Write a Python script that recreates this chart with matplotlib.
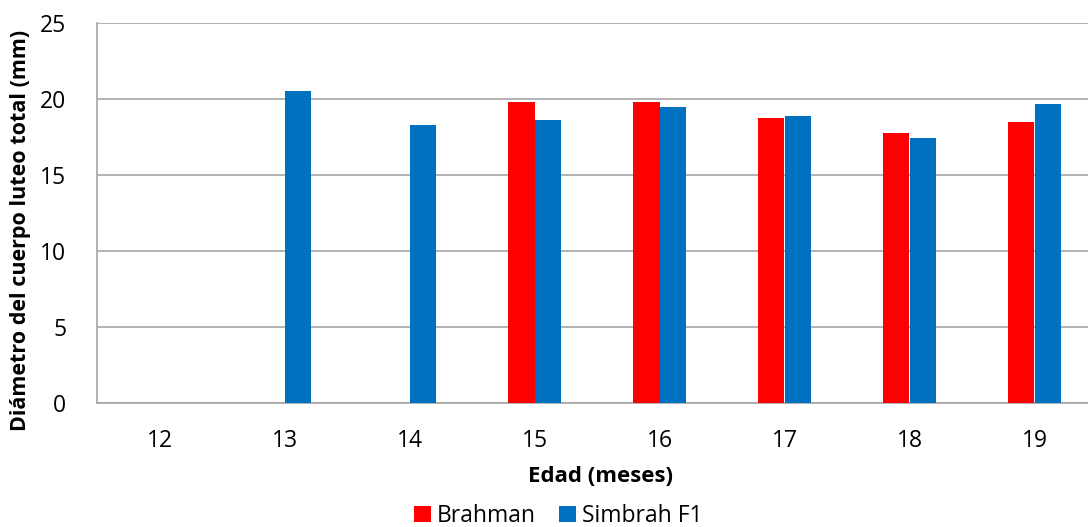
import numpy as np
import matplotlib
matplotlib.use('Agg')
import matplotlib.pyplot as plt

edades = ['12', '13', '14', '15', '16', '17', '18', '19']
brahman = [np.nan, np.nan, np.nan, 19.8, 19.8, 18.75, 17.75, 18.5]
simbrah = [np.nan, 20.5, 18.3, 18.65, 19.5, 18.9, 17.45, 19.65]

plt.rcParams['font.family'] = ['Open Sans', 'DejaVu Sans']

fig = plt.figure(figsize=(10.88, 5.27), dpi=100)
# plot area runs a little past the right edge of the figure, as in the original
ax = fig.add_axes([97 / 1088, 1 - 403 / 527, 1000 / 1088, 380 / 527])

x = np.arange(len(edades))
w = 0.21
ax.bar(x - w / 2, brahman, w, color='#FF0000', label='Brahman', zorder=3)
ax.bar(x + w / 2, simbrah, w, color='#0070C0', label='Simbrah F1', zorder=3)

ax.set_xlim(-0.5, len(edades) - 0.5)
ax.set_ylim(0, 25)
ax.set_yticks([0, 5, 10, 15, 20, 25])
ax.set_xticks(x)
ax.set_xticklabels(edades)
ax.tick_params(axis='both', length=0, labelsize=16.5, colors='black')
ax.tick_params(axis='x', pad=19)
ax.tick_params(axis='y', pad=22)
ax.yaxis.grid(True, color='#A6A6A6', linewidth=1.2, zorder=0)

for s in ['top', 'right']:
    ax.spines[s].set_visible(False)
for s in ['left', 'bottom']:
    ax.spines[s].set_color('#A6A6A6')
    ax.spines[s].set_linewidth(1.2)

fig.text(600 / 1088, 1 - 477 / 527, 'Edad (meses)', fontsize=16, fontweight='bold',
         ha='center', va='center')
fig.text(21 / 1088, 1 - 230 / 527, 'Diámetro del cuerpo luteo total (mm)', fontsize=15.5,
         fontweight='bold', rotation=90, ha='center', va='center')

fig.legend(loc='center', bbox_to_anchor=(558 / 1088, 1 - 516 / 527), ncol=2, frameon=False,
           fontsize=16.5, handlelength=0.75, handleheight=0.75, handletextpad=0.25,
           columnspacing=1.0, borderpad=0)

fig.savefig('out.png', dpi=100)
